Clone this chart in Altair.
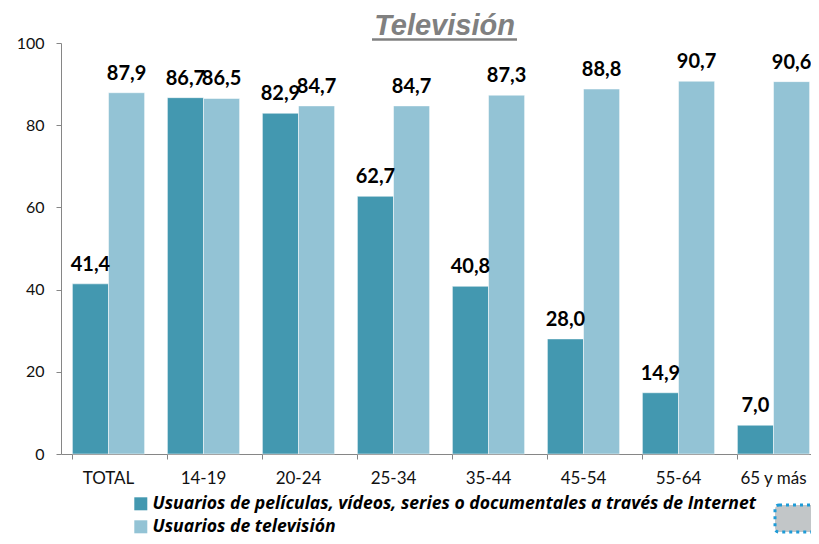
import altair as alt
import pandas as pd

categories = ["TOTAL", "14-19", "20-24", "25-34", "35-44", "45-54", "55-64", "65 y más"]
internet = [41.4, 86.7, 82.9, 62.7, 40.8, 28.0, 14.9, 7.0]
television = [87.9, 86.5, 84.7, 84.7, 87.3, 88.8, 90.7, 90.6]
series_names = [
    "Usuarios de películas, vídeos, series o documentales a través de Internet",
    "Usuarios de televisión",
]
colors = ["#4398b0", "#93c3d5"]
title_text = "Televisión"

rows = []
for c, a, b in zip(categories, internet, television):
    rows.append({"cat": c, "serie": series_names[0], "val": a})
    rows.append({"cat": c, "serie": series_names[1], "val": b})
df = pd.DataFrame(rows)
df["lbl"] = df["val"].map(lambda v: f"{v:.1f}".replace(".", ","))

FONT = "Lato"
GRAY = "#868686"

xenc = alt.X(
    "cat:N",
    sort=categories,
    title=None,
    scale=alt.Scale(paddingInner=0.24, paddingOuter=0.0674, align=0.8906),
    axis=alt.Axis(
        labelAngle=0, bandPosition=0, tickSize=5, labelPadding=11,
        domainColor=GRAY, tickColor=GRAY, labelColor="#111111",
        labelFontSize=17, labelFont=FONT, grid=False,
    ),
)
xoff = alt.XOffset("serie:N", sort=series_names, scale=alt.Scale(paddingInner=0, paddingOuter=0))
yenc = alt.Y(
    "val:Q",
    title=None,
    scale=alt.Scale(domain=[0, 100], nice=False),
    axis=alt.Axis(
        values=[0, 20, 40, 60, 80, 100], tickSize=5, labelPadding=12,
        domainColor=GRAY, tickColor=GRAY, labelColor="#111111",
        labelFontSize=16, labelFont=FONT, grid=False,
    ),
)

base = alt.Chart(df)
bars = base.mark_bar(stroke="white", strokeWidth=0.5).encode(
    x=xenc,
    xOffset=xoff,
    y=yenc,
    color=alt.Color(
        "serie:N",
        sort=series_names,
        scale=alt.Scale(domain=series_names, range=colors),
        legend=alt.Legend(
            title=None, orient="none", legendX=71, legendY=452, direction="vertical",
            symbolType="square", symbolSize=169, symbolStrokeWidth=0,
            labelFontSize=17.6, labelFont="Open Sans", labelFontWeight="bold", labelFontStyle="italic",
            labelColor="#000000", labelLimit=900, labelOffset=3, rowPadding=4, padding=0,
        ),
    ),
)
labels = base.mark_text(
    baseline="alphabetic", dy=-13, fontSize=20, fontWeight="bold", font=FONT, color="#000000"
).encode(x=xenc, xOffset=xoff, y=yenc, text="lbl:N")

one = pd.DataFrame({"t": [title_text]})
title = alt.Chart(one).mark_text(
    font="Liberation Sans", fontSize=29, fontWeight="bold", fontStyle="italic",
    color="#808080", align="center", baseline="alphabetic",
).encode(text="t:N", x=alt.value(383.5), y=alt.value(-8))
underline = alt.Chart(one).mark_rule(color="#808080", strokeWidth=2.5).encode(
    x=alt.value(311), x2=alt.value(456), y=alt.value(-3.5)
)
badge = alt.Chart(one).mark_rect(
    fill="#c2c6c8", stroke="#1e9bd7", strokeWidth=3, strokeDash=[3, 4], cornerRadius=4
).encode(x=alt.value(714), x2=alt.value(790), y=alt.value(462), y2=alt.value(489))

chart = alt.layer(bars, labels, title, underline, badge).properties(
    width=750,
    height=411,
    autosize=alt.AutoSizeParams(type="none"),
    padding={"left": 53, "top": 35, "right": 0, "bottom": 82},
).configure_view(stroke=None)

chart.save("out.html", embed_options={"renderer": "svg", "actions": False})
